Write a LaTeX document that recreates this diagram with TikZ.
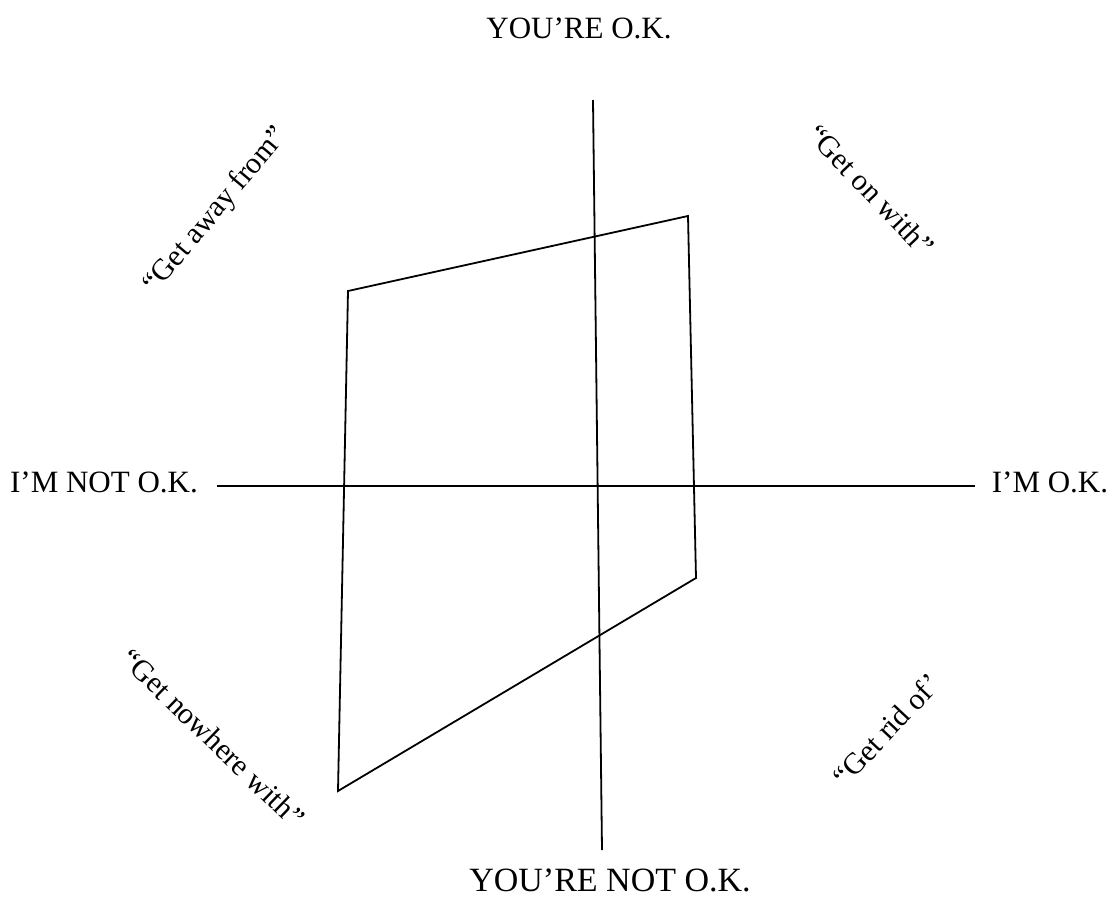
\documentclass[tikz,border=0pt]{standalone}
\usepackage{fontspec}
\setmainfont{Liberation Serif}
\begin{document}
\begin{tikzpicture}[x=1pt,y=-1pt,
  axis/.style={line width=1.8pt},
  quad/.style={line width=1.8pt,line join=miter},
  lbl/.style={inner sep=0pt,font=\fontsize{31}{36}\selectfont},
  diag/.style={inner sep=0pt,font=\fontsize{30}{36}\selectfont}]
\useasboundingbox (0,0) rectangle (1117,899);
% axes
\coordinate (vt) at (593,100);
\coordinate (vb) at (602,850);
\coordinate (hl) at (217,486);
\coordinate (hr) at (975,486);
\draw[axis] (vt) -- (vb);
\draw[axis] (hl) -- (hr);
% quadrilateral
\coordinate (tl) at (348,291);
\coordinate (tr) at (688,216);
\coordinate (br) at (696,578);
\coordinate (bl) at (338,791);
\draw[quad] (tl) -- (tr) -- (br) -- (bl) -- cycle;
% axis labels
\node[lbl] (top) at (579,28) {YOU’RE O.K.};
\node[lbl,font=\fontsize{34}{40}\selectfont] (bottom) at (610,880) {YOU’RE NOT O.K.};
\node[lbl] (left) at (104,482) {I’M NOT O.K.};
\node[lbl] (right) at (1050,482) {I’M O.K.};
% diagonal labels
\node[diag,rotate=50] (away) at (216,211) {“Get away from”};
\node[diag,rotate=-46.5] (on) at (871,190) {“Get on with”};
\node[diag,rotate=-44] (nowhere) at (213,738) {“Get nowhere with”};
\node[diag,rotate=46.7] (rid) at (886,730) {“Get rid of’};
\end{tikzpicture}
\end{document}
